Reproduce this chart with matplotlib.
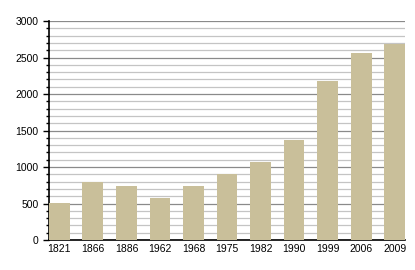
import matplotlib
matplotlib.use("Agg")
import matplotlib.pyplot as plt
from matplotlib.ticker import MultipleLocator

years = ["1821", "1866", "1886", "1962", "1968", "1975", "1982", "1990", "1999", "2006", "2009"]
population = [510, 790, 740, 575, 740, 900, 1065, 1370, 2185, 2565, 2690]

plt.rcParams['font.family'] = ['Liberation Sans', 'DejaVu Sans']

fig = plt.figure(figsize=(4.15, 2.7), dpi=100)
ax = fig.add_axes([0.118, 0.111, 0.858, 0.811])

x = range(len(years))
ax.bar(x, population, width=0.62, color='#c9bf9a', zorder=3)

ax.set_xlim(-0.31, len(years) - 1 + 0.31)
ax.set_ylim(0, 3000)
ax.set_xticks(list(x))
ax.set_xticklabels(years)
ax.yaxis.set_major_locator(MultipleLocator(500))
ax.yaxis.set_minor_locator(MultipleLocator(100))

# grid: darker every 500, lighter every 100
ax.grid(axis='y', which='major', color='#8a8a8a', linewidth=0.9, zorder=0)
ax.grid(axis='y', which='minor', color='#c4c4c4', linewidth=0.9, zorder=0)
ax.set_axisbelow(True)

for side in ['top', 'right']:
    ax.spines[side].set_visible(False)
ax.spines['left'].set_linewidth(1.2)
ax.spines['bottom'].set_linewidth(1.2)

ax.tick_params(axis='y', which='major', length=4.5, width=1, labelsize=7.5, pad=3)
ax.tick_params(axis='y', which='minor', length=2.5, width=1)
ax.tick_params(axis='x', length=0, labelsize=7.5, pad=3)

fig.savefig("out.png", dpi=100)
